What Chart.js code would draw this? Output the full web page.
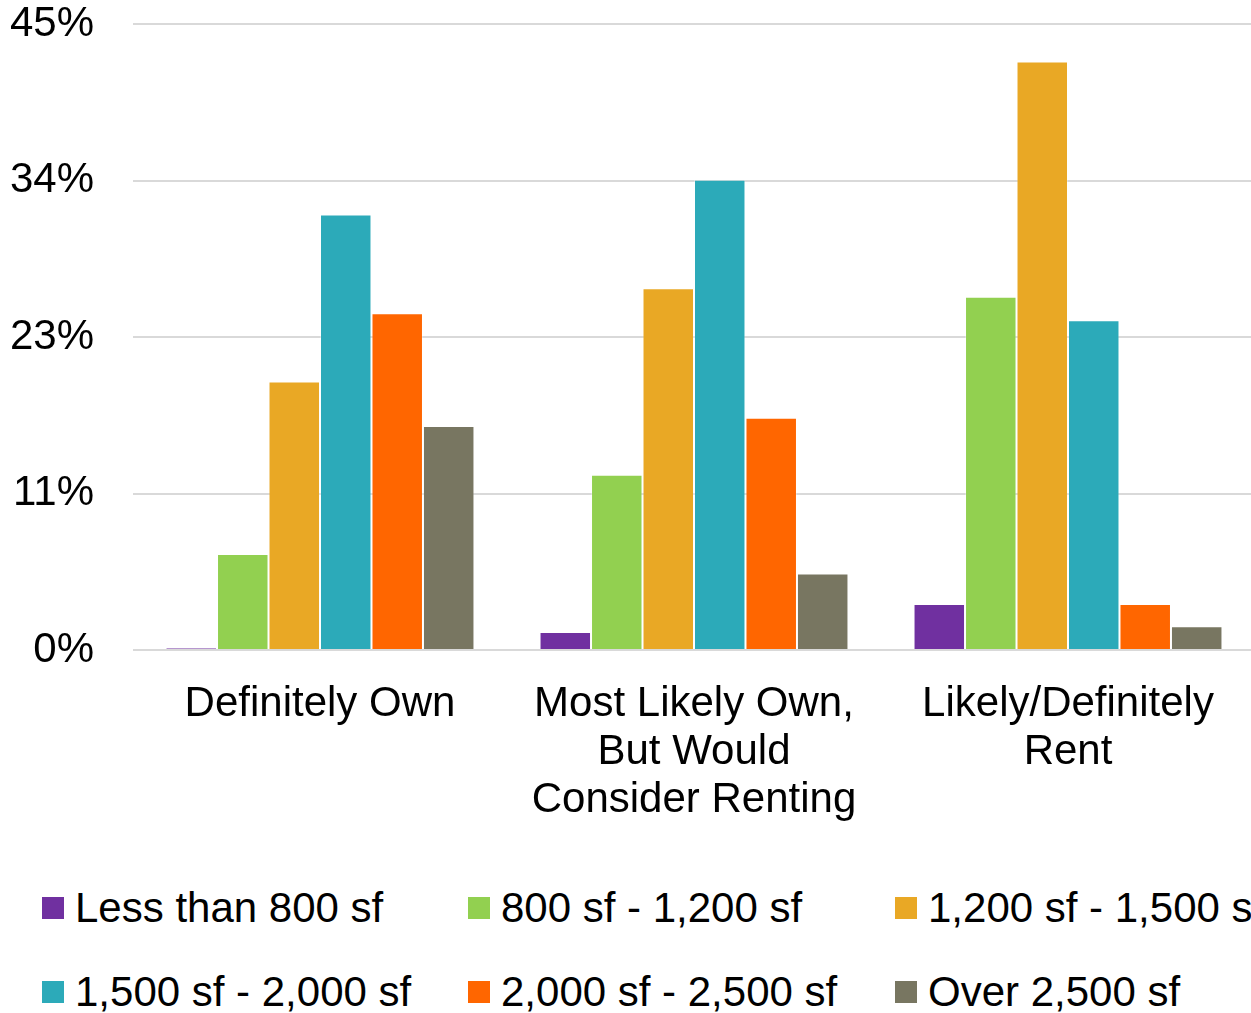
<!DOCTYPE html>
<html>
<head>
<meta charset="utf-8">
<script src="https://cdn.jsdelivr.net/npm/chart.js@4"></script>
<style>
  html, body { margin: 0; padding: 0; background: #fff; overflow: hidden; }
  #wrap { position: relative; width: 1251px; height: 1013px; overflow: hidden; }
  #chart { position: absolute; left: 0; top: 0; }
  #legend { position: absolute; left: 0; top: 0; font-family: "Liberation Sans", Arial, sans-serif; font-size: 42px; color: #000; }
  .item { position: absolute; white-space: nowrap; line-height: 48px; display: flex; align-items: center; }
  .box { width: 22px; height: 22px; margin-right: 11px; display: inline-block; }
</style>
</head>
<body>
<div id="wrap">
  <canvas id="chart" width="1255" height="823"></canvas>
  <div id="legend"></div>
</div>
<script>
// categories (x axis)
const categories = [
    ['Definitely Own'],
    ['Most Likely Own,', 'But Would', 'Consider Renting'],
    ['Likely/Definitely', 'Rent']
];

// series names and colours
const seriesNames = ['Less than 800 sf', '800 sf - 1,200 sf', '1,200 sf - 1,500 sf',
                     '1,500 sf - 2,000 sf', '2,000 sf - 2,500 sf', 'Over 2,500 sf'];
const seriesColors = ['#7030A0', '#92D050', '#E9A825', '#2CAAB9', '#FF6600', '#787661'];

// values in percent, one array per size band
const lessThan800 = [0.15, 1.3, 3.3];
const from800to1200 = [6.9, 12.6, 25.4];
const from1200to1500 = [19.3, 26.0, 42.3];
const from1500to2000 = [31.3, 33.8, 23.7];
const from2000to2500 = [24.2, 16.7, 3.3];
const over2500 = [16.1, 5.5, 1.7];

// y axis ticks
const yMax = 45;
const yStep = 11.25;

const seriesValues = [lessThan800, from800to1200, from1200to1500, from1500to2000, from2000to2500, over2500];

const fontFamily = '"Liberation Sans", Arial, sans-serif';

const ctx = document.getElementById('chart').getContext('2d');
new Chart(ctx, {
    type: 'bar',
    data: {
        labels: categories,
        datasets: seriesNames.map((name, i) => ({
            label: name,
            data: seriesValues[i],
            backgroundColor: seriesColors[i],
            borderColor: 'rgba(255,255,255,0.3)',
            borderWidth: 1,
            borderSkipped: 'bottom',
            categoryPercentage: 0.826,
            barPercentage: 1.0
        }))
    },
    options: {
        responsive: false,
        animation: false,
        devicePixelRatio: 1,
        layout: { padding: { left: 11, right: 0, top: 0, bottom: 0 } },
        plugins: {
            legend: { display: false },
            tooltip: { enabled: false }
        },
        scales: {
            x: {
                grid: { display: false, drawTicks: false },
                border: { display: false },
                ticks: {
                    color: '#000',
                    padding: 30,
                    maxRotation: 0,
                    autoSkip: false,
                    font: { family: fontFamily, size: 42, lineHeight: 1.15 }
                },
                afterFit: scale => {
                    // keep the plot area where the original has it
                    scale.paddingLeft = 0;
                    scale.paddingRight = 0;
                    scale.height = 173;
                }
            },
            y: {
                min: 0,
                max: yMax,
                grid: { color: '#d9d9d9', lineWidth: 2, drawTicks: false },
                border: { display: false },
                ticks: {
                    stepSize: yStep,
                    color: '#000',
                    padding: 39,
                    font: { family: fontFamily, size: 42, lineHeight: 1.15 },
                    callback: v => Math.round(v) + '%'
                },
                afterFit: scale => {
                    scale.width = 122;
                    scale.paddingTop = 24;
                    scale.paddingBottom = 0;
                }
            }
        }
    }
});

// legend laid out in three columns, two rows
const legend = document.getElementById('legend');
const colX = [42, 468, 895];
const rowY = [884, 968];
seriesNames.forEach((name, i) => {
    const item = document.createElement('div');
    item.className = 'item';
    item.style.left = colX[i % 3] + 'px';
    item.style.top = rowY[Math.floor(i / 3)] + 'px';
    const box = document.createElement('span');
    box.className = 'box';
    box.style.background = seriesColors[i];
    const text = document.createElement('span');
    text.textContent = name;
    item.appendChild(box);
    item.appendChild(text);
    legend.appendChild(item);
});
</script>
</body>
</html>
